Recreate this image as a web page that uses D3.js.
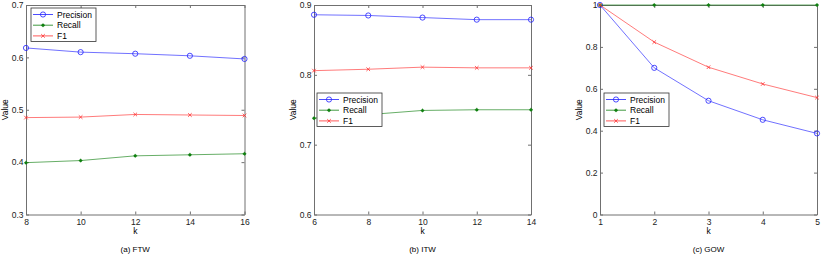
<!DOCTYPE html>
<html>
<head>
<meta charset="utf-8">
<script src="https://cdn.jsdelivr.net/npm/d3@7"></script>
<style>
  body { margin: 0; background: #fff; }
  svg { font-family: "Liberation Sans", Arial, sans-serif; }
  .tick text { font-size: 8.5px; fill: #222; }
</style>
</head>
<body>
<svg width="822" height="255"></svg>
<script>
// values
const ftwK = [8, 10, 12, 14, 16];
const ftwPrecision = [0.618, 0.610, 0.607, 0.603, 0.597];
const ftwRecall = [0.399, 0.403, 0.412, 0.414, 0.416];
const ftwF1 = [0.485, 0.486, 0.491, 0.490, 0.489];

const itwK = [6, 8, 10, 12, 14];
const itwPrecision = [0.886, 0.885, 0.882, 0.879, 0.879];
const itwRecall = [0.738, 0.743, 0.749, 0.750, 0.750];
const itwF1 = [0.806, 0.808, 0.811, 0.810, 0.810];

const gowK = [1, 2, 3, 4, 5];
const gowPrecision = [1.0, 0.700, 0.543, 0.452, 0.387];
const gowRecall = [1.0, 1.0, 1.0, 1.0, 1.0];
const gowF1 = [1.0, 0.823, 0.703, 0.623, 0.558];

const seriesNames = ["Precision", "Recall", "F1"];
const captions = ["(a) FTW", "(b) ITW", "(c) GOW"];
const ftwYTicks = [0.3, 0.4, 0.5, 0.6, 0.7];
const itwYTicks = [0.6, 0.7, 0.8, 0.9];
const gowYTicks = [0, 0.2, 0.4, 0.6, 0.8, 1];

const colors = { Precision: "#2020ff", Recall: "#108010", F1: "#ff3030" };

const panels = [
  { k: ftwK, vals: [ftwPrecision, ftwRecall, ftwF1], yTicks: ftwYTicks,
    left: 26, right: 244.5, legend: [31, 8] },
  { k: itwK, vals: [itwPrecision, itwRecall, itwF1], yTicks: itwYTicks,
    left: 314, right: 531, legend: [317, 93] },
  { k: gowK, vals: [gowPrecision, gowRecall, gowF1], yTicks: gowYTicks,
    left: 600, right: 817, legend: [604, 93] }
];
const plotTop = 5, plotBottom = 214.5;

var svg = d3.select("svg");

function marker(g, name, cx, cy) {
  const c = colors[name];
  if (name == "Precision") {
    g.append("circle").attr("cx", cx).attr("cy", cy).attr("r", 2.6)
      .attr("fill", "none").attr("stroke", c).attr("stroke-width", 0.8);
  } else if (name == "Recall") {
    g.append("circle").attr("cx", cx).attr("cy", cy).attr("r", 1.5).attr("fill", c);
    g.append("path")
      .attr("d", `M${cx - 2},${cy}H${cx + 2}M${cx},${cy - 2}V${cy + 2}`)
      .attr("stroke", c).attr("stroke-width", 0.6);
  } else {
    g.append("path")
      .attr("d", `M${cx - 1.8},${cy - 1.8}L${cx + 1.8},${cy + 1.8}M${cx - 1.8},${cy + 1.8}L${cx + 1.8},${cy - 1.8}`)
      .attr("stroke", c).attr("stroke-width", 0.8);
  }
}

panels.forEach((p, pi) => {
  var x = d3.scaleLinear().domain(d3.extent(p.k)).range([p.left, p.right]);
  var y = d3.scaleLinear().domain(d3.extent(p.yTicks)).range([plotBottom, plotTop]);
  var g = svg.append("g");

  // axes (MATLAB style box, ticks inside)
  g.append("g").attr("transform", "translate(0," + plotBottom + ")")
    .call(d3.axisBottom(x).tickValues(p.k).tickSizeInner(-3).tickSizeOuter(0).tickPadding(4)
      .tickFormat(d3.format("d")));
  g.append("g").attr("transform", "translate(0," + plotTop + ")")
    .call(d3.axisTop(x).tickValues(p.k).tickSizeInner(-3).tickSizeOuter(0).tickFormat(""));
  g.append("g").attr("transform", "translate(" + p.left + ",0)")
    .call(d3.axisLeft(y).tickValues(p.yTicks).tickSizeInner(-3).tickSizeOuter(0).tickPadding(2.5)
      .tickFormat(d => d == 0 || d == 1 ? d3.format("d")(d) : d3.format(".1f")(d)));
  g.append("g").attr("transform", "translate(" + p.right + ",0)")
    .call(d3.axisRight(y).tickValues(p.yTicks).tickSizeInner(-3).tickSizeOuter(0).tickFormat(""));
  g.selectAll(".domain, .tick line").attr("stroke", "#707070").attr("stroke-width", 1);

  // lines + markers
  p.vals.forEach((vals, si) => {
    const name = seriesNames[si];
    const pts = p.k.map((k, i) => [x(k), y(vals[i])]);
    g.append("path").attr("d", d3.line()(pts)).attr("fill", "none")
      .attr("stroke", colors[name]).attr("stroke-width", 0.8).attr("stroke-opacity", 0.8);
    pts.forEach(d => marker(g, name, d[0], d[1]));
  });

  // labels
  g.append("text").attr("x", (p.left + p.right) / 2).attr("y", 234)
    .attr("text-anchor", "middle").attr("font-size", 8.5).text("k");
  g.append("text").attr("transform", "translate(" + (p.left - 18) + "," + (plotTop + plotBottom) / 2 + ") rotate(-90)")
    .attr("text-anchor", "middle").attr("font-size", 8.5).text("Value");
  g.append("text").attr("x", (p.left + p.right) / 2).attr("y", 251.5)
    .attr("text-anchor", "middle").attr("font-size", 8).text(captions[pi]);

  // legend
  var lg = g.append("g").attr("transform", "translate(" + p.legend[0] + "," + p.legend[1] + ")");
  lg.append("rect").attr("width", 65).attr("height", 33.5).attr("fill", "#fff")
    .attr("stroke", "#333").attr("stroke-width", 0.8);
  seriesNames.forEach((name, i) => {
    const ry = 6.5 + i * 10.7;
    lg.append("line").attr("x1", 2).attr("x2", 22).attr("y1", ry).attr("y2", ry)
      .attr("stroke", colors[name]).attr("stroke-width", 0.8);
    marker(lg, name, 12, ry);
    lg.append("text").attr("x", 26).attr("y", ry + 3).attr("font-size", 8.5).text(name);
  });
});
</script>
</body>
</html>
